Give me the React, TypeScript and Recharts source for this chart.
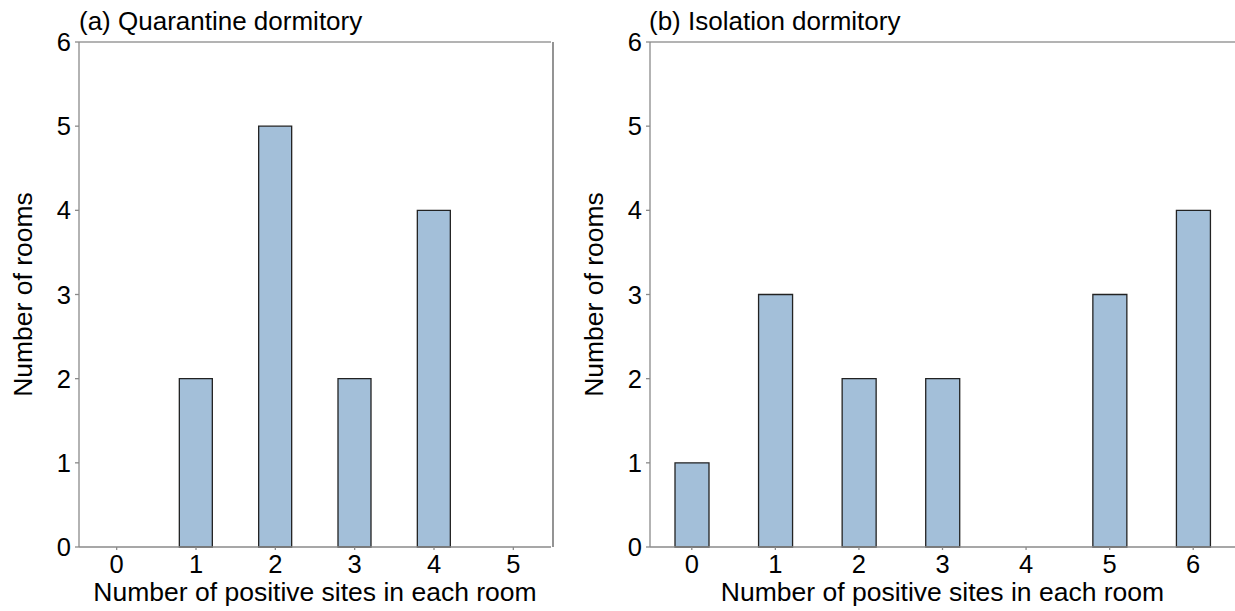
import React from 'react';
import { BarChart, Bar, XAxis, YAxis, ReferenceLine } from 'recharts';

const sitesA = ['0', '1', '2', '3', '4', '5'];
const roomsA = [0, 2, 5, 2, 4, 0];
const sitesB = ['0', '1', '2', '3', '4', '5', '6'];
const roomsB = [1, 3, 2, 2, 0, 3, 4];
const yTicks = [0, 1, 2, 3, 4, 5, 6];
const titleA = '(a) Quarantine dormitory';
const titleB = '(b) Isolation dormitory';
const xTitle = 'Number of positive sites in each room';
const yTitle = 'Number of rooms';

const FONT = '"Liberation Sans", Arial, Helvetica, sans-serif';
const AXIS = '#8a8a8a';
const BAR_FILL = '#a3bfd9';
const BAR_STROKE = '#222222';

const dataA = sitesA.map((s, i) => ({ s, n: roomsA[i] }));
const dataB = sitesB.map((s, i) => ({ s, n: roomsB[i] }));

type PanelProps = {
  data: { s: string; n: number }[];
  width: number;
  rightMargin: number;
  barSize: number;
  padding: { left: number; right: number };
  lastCat: string;
  showRight: boolean;
};

const Panel = ({ data, width, rightMargin, barSize, padding, lastCat, showRight }: PanelProps) => (
  <BarChart
    width={width}
    height={611}
    data={data}
    margin={{ top: 42, right: rightMargin, left: 0, bottom: 0 }}
    barCategoryGap={0}
  >
    <XAxis
      dataKey="s"
      height={64}
      padding={padding}
      tick={{ fontSize: 25.5, fill: '#000', fontFamily: FONT }}
      tickSize={3}
      tickMargin={5}
      axisLine={{ stroke: AXIS, strokeWidth: 1.3 }}
      tickLine={{ stroke: AXIS, strokeWidth: 1.3 }}
      label={{
        value: xTitle,
        position: 'insideBottom',
        offset: 10,
        style: { fontSize: 26.5, fill: '#000', fontFamily: FONT },
      }}
    />
    <YAxis
      width={79}
      domain={[0, 6]}
      ticks={yTicks}
      interval={0}
      allowDecimals={false}
      tick={{ fontSize: 25.5, fill: '#000', fontFamily: FONT }}
      tickSize={4}
      tickMargin={4}
      axisLine={{ stroke: AXIS, strokeWidth: 1.3 }}
      tickLine={{ stroke: AXIS, strokeWidth: 1.3 }}
      label={{
        value: yTitle,
        angle: -90,
        position: 'insideLeft',
        offset: 23,
        style: { fontSize: 26.5, fill: '#000', fontFamily: FONT, textAnchor: 'middle' },
      }}
    />
    <ReferenceLine y={6} stroke="#9a9a9a" strokeWidth={1.3} ifOverflow="visible" />
    {showRight && (
      <ReferenceLine x={lastCat} position="end" stroke="#5a5a5a" strokeWidth={1.3} ifOverflow="visible" />
    )}
    <Bar
      dataKey="n"
      fill={BAR_FILL}
      stroke={BAR_STROKE}
      strokeWidth={1.3}
      barSize={barSize}
      isAnimationActive={false}
    />
  </BarChart>
);

export default function App() {
  return (
    <div
      style={{
        position: 'fixed',
        left: 0,
        top: 0,
        width: 1235,
        height: 611,
        background: '#fff',
        overflow: 'hidden',
        fontFamily: FONT,
      }}
    >
      <div style={{ position: 'absolute', left: 0, top: 0 }}>
        <Panel
          data={dataA}
          width={600}
          rightMargin={49}
          barSize={33}
          padding={{ left: -2, right: -2 }}
          lastCat={sitesA[sitesA.length - 1]}
          showRight={true}
        />
      </div>
      <div style={{ position: 'absolute', left: 571, top: 0 }}>
        <Panel
          data={dataB}
          width={664}
          rightMargin={0}
          barSize={34}
          padding={{ left: 0, right: 0 }}
          lastCat={sitesB[sitesB.length - 1]}
          showRight={false}
        />
      </div>
      <svg
        width={1235}
        height={611}
        style={{ position: 'absolute', left: 0, top: 0, pointerEvents: 'none' }}
      >
        <text x={79} y={30} fontSize={26} fontFamily={FONT} fill="#000">
          {titleA}
        </text>
        <text x={649} y={30} fontSize={26} fontFamily={FONT} fill="#000">
          {titleB}
        </text>
      </svg>
    </div>
  );
}
